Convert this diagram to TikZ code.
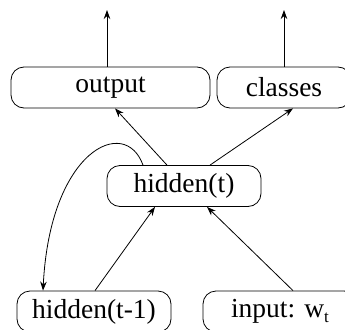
\documentclass[tikz,border=0pt]{standalone}
\usepackage{fontspec}
\setmainfont{Liberation Serif}
\usetikzlibrary{arrows.meta}
\begin{document}
\begin{tikzpicture}[x=1pt,y=-1pt,
  box/.style={draw,rounded corners=13pt,minimum height=41pt,inner sep=0pt,line width=0.8pt,font=\fontsize{27.5}{30}\selectfont},
  arr/.style={line width=0.8pt,-{Stealth[length=9pt,width=6.5pt]}}]
\useasboundingbox (0,0) rectangle (345,329);
\node[box,minimum width=199pt] (out) at (110.5,87.5) {output};
\node[box,minimum width=134pt] (cls) at (284,87.5) {classes};
\node[box,minimum width=154pt] (hid) at (184,186) {hidden(t)};
\node[box,minimum width=154pt] (hm1) at (94,311.5) {hidden(t-1)};
\node[box,minimum width=154pt] (inp) at (280,311.5) {input: w\raisebox{-5pt}{\fontsize{17}{17}\selectfont t}};
\coordinate (o1) at (107,10);
\coordinate (c1) at (284,10);
\draw[arr] (out.north -| o1) -- (o1);
\draw[arr] (cls.north -| c1) -- (c1);
\draw[arr] ([xshift=-17pt]hid.north) -- ([xshift=4.5pt]out.south);
\draw[arr] ([xshift=26pt]hid.north) -- ([xshift=9pt]cls.south);
\draw[arr] ([xshift=1pt]hm1.north) -- ([xshift=-29pt]hid.south);
\draw[arr] ([xshift=13pt]inp.north) -- ([xshift=23pt]hid.south);
\draw[arr] ([xshift=-41pt]hid.north) .. controls (125,115) and (50,150) .. ([xshift=-51pt]hm1.north);
\end{tikzpicture}
\end{document}
